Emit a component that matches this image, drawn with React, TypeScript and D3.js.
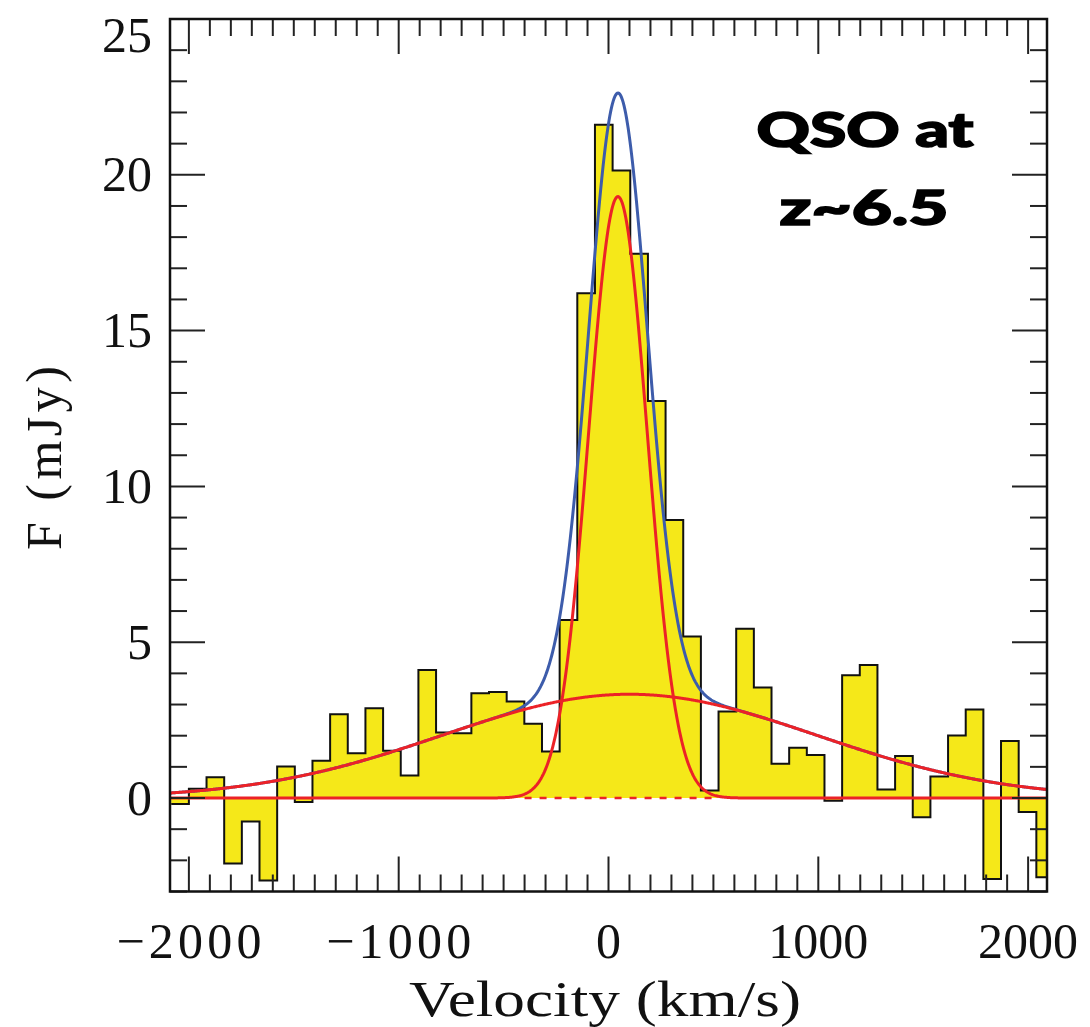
import React from 'react';
import * as d3 from 'd3';

// Axis ranges (km/s and mJy)
const VELOCITY_RANGE: [number, number] = [-2090, 2090];
const FLUX_RANGE: [number, number] = [-3, 25];

// Spectral channels: lower edge of the first channel and channel width (km/s)
const CHANNEL_FIRST_EDGE = -2084.15;
const CHANNEL_WIDTH = 84.15;

// Observed flux density per channel (mJy)
const flux = [
  -0.19, 0.3, 0.67, -2.1, -0.75, -2.65, 1.01, -0.13, 1.2, 2.69,
  1.44, 2.88, 1.52, 0.72, 4.11, 2.1, 2.08, 3.36, 3.4, 3.1,
  2.38, 1.49, 5.71, 16.2, 21.61, 20.14, 17.47, 12.74, 8.92, 5.18,
  0.24, 2.78, 5.43, 3.55, 1.1, 1.61, 1.38, -0.09, 3.94, 4.27,
  0.27, 1.35, -0.62, 0.69, 2.01, 2.84, -2.6, 1.83, -0.45, -2.54,
];

// Two-component Gaussian fit
const narrowComponent = { amplitude: 19.3, center: 45, sigma: 140 };
const broadComponent = { amplitude: 3.33, center: 100, sigma: 890 };

// Stretch of the zero level shown dashed beneath the narrow line
const zeroDashRange: [number, number] = [-400, 515];

// Ticks
const xMajorTicks = [-2000, -1000, 0, 1000, 2000];
const xMinorStep = 100;
const yMajorTicks = [0, 5, 10, 15, 20, 25];
const yMinorStep = 1;

const xTitle = 'Velocity (km/s)';
const yTitle = 'F (mJy)';
const annotationLines = ['QSO at', 'z~6.5'];

const W = 1090;
const H = 1027;
const PLOT = { left: 170, right: 1047, top: 19, bottom: 891.5 };

const YELLOW = '#F5E819';
const RED = '#EC2227';
const BLUE = '#3D5CAB';
const INK = '#111111';

const gauss = (c: { amplitude: number; center: number; sigma: number }, v: number) =>
  c.amplitude * Math.exp(-((v - c.center) ** 2) / (2 * c.sigma ** 2));

export default function App() {
  const x = d3.scaleLinear().domain(VELOCITY_RANGE).range([PLOT.left, PLOT.right]);
  const y = d3.scaleLinear().domain(FLUX_RANGE).range([PLOT.bottom, PLOT.top]);

  // channel edges, the first and last clamped to the axis range
  const bins = flux.map((f, i) => ({
    v0: Math.max(CHANNEL_FIRST_EDGE + i * CHANNEL_WIDTH, VELOCITY_RANGE[0]),
    f,
  }));
  const lastEdge = Math.min(CHANNEL_FIRST_EDGE + flux.length * CHANNEL_WIDTH, VELOCITY_RANGE[1]);
  const stepPts = [...bins, { v0: lastEdge, f: flux[flux.length - 1] }];

  const area = d3
    .area<{ v0: number; f: number }>()
    .x((d) => x(d.v0))
    .y0(y(0))
    .y1((d) => y(d.f))
    .curve(d3.curveStepAfter);
  const step = d3
    .line<{ v0: number; f: number }>()
    .x((d) => x(d.v0))
    .y((d) => y(d.f))
    .curve(d3.curveStepAfter);

  const vs = d3.range(VELOCITY_RANGE[0], VELOCITY_RANGE[1] + 0.1, 4);
  const curve = d3
    .line<number[]>()
    .x((d) => x(d[0]))
    .y((d) => y(d[1]));
  const narrowPath = curve(vs.map((v) => [v, gauss(narrowComponent, v)]));
  const broadPath = curve(vs.map((v) => [v, gauss(broadComponent, v)]));
  const totalPath = curve(vs.map((v) => [v, gauss(narrowComponent, v) + gauss(broadComponent, v)]));

  const xMinor = d3.range(-2000, 2000 + 1, xMinorStep).filter((t) => !xMajorTicks.includes(t));
  const yMinor = d3.range(-3, 25 + 0.01, yMinorStep).filter((t) => !yMajorTicks.includes(t));

  const fmt = d3.format('d');
  const major = 35;
  const minor = 17;
  const tickFont = "'Liberation Serif', 'DejaVu Serif', serif";

  return (
    <svg
      width={W}
      height={H}
      viewBox={`0 0 ${W} ${H}`}
      style={{ position: 'absolute', left: 0, top: 0, background: '#fff' }}
    >
      <defs>
        <clipPath id="plot-clip">
          <rect x={PLOT.left} y={PLOT.top} width={PLOT.right - PLOT.left} height={PLOT.bottom - PLOT.top} />
        </clipPath>
      </defs>

      <g clipPath="url(#plot-clip)">
        <path d={area(stepPts) ?? ''} fill={YELLOW} stroke="none" />
        <line
          x1={x(zeroDashRange[0])}
          x2={x(zeroDashRange[1])}
          y1={y(0)}
          y2={y(0)}
          stroke={RED}
          strokeWidth={2.5}
          strokeDasharray="7 8"
        />
        <path d={step(stepPts) ?? ''} fill="none" stroke={INK} strokeWidth={2} />
        <path d={totalPath ?? ''} fill="none" stroke={BLUE} strokeWidth={3} />
        <path d={broadPath ?? ''} fill="none" stroke={RED} strokeWidth={3} />
        <path d={narrowPath ?? ''} fill="none" stroke={RED} strokeWidth={3} />
      </g>

      {/* ticks on all four sides, pointing inward */}
      <g stroke="#222" strokeWidth={2}>
        {xMajorTicks.map((t) => (
          <g key={`xM${t}`}>
            <line x1={x(t)} x2={x(t)} y1={PLOT.bottom} y2={PLOT.bottom - major} />
            <line x1={x(t)} x2={x(t)} y1={PLOT.top} y2={PLOT.top + major} />
          </g>
        ))}
        {xMinor.map((t) => (
          <g key={`xm${t}`}>
            <line x1={x(t)} x2={x(t)} y1={PLOT.bottom} y2={PLOT.bottom - minor} />
            <line x1={x(t)} x2={x(t)} y1={PLOT.top} y2={PLOT.top + minor} />
          </g>
        ))}
        {yMajorTicks.map((t) => (
          <g key={`yM${t}`}>
            <line x1={PLOT.left} x2={PLOT.left + major} y1={y(t)} y2={y(t)} />
            <line x1={PLOT.right} x2={PLOT.right - major} y1={y(t)} y2={y(t)} />
          </g>
        ))}
        {yMinor.map((t) => (
          <g key={`ym${t}`}>
            <line x1={PLOT.left} x2={PLOT.left + minor} y1={y(t)} y2={y(t)} />
            <line x1={PLOT.right} x2={PLOT.right - minor} y1={y(t)} y2={y(t)} />
          </g>
        ))}
      </g>

      <rect
        x={PLOT.left}
        y={PLOT.top}
        width={PLOT.right - PLOT.left}
        height={PLOT.bottom - PLOT.top}
        fill="none"
        stroke={INK}
        strokeWidth={2.5}
      />

      {/* tick labels */}
      <g fontFamily={tickFont} fontSize={50} fill={INK}>
        {xMajorTicks.map((t) => (
          <text
            key={`xl${t}`}
            x={x(t)}
            y={958}
            textAnchor="middle"
            textLength={t < 0 ? 145 : undefined}
            lengthAdjust="spacing"
          >
            {fmt(t)}
          </text>
        ))}
        {yMajorTicks.map((t) => (
          <text key={`yl${t}`} x={152} y={Math.max(y(t), PLOT.top + 16) + 16.5} textAnchor="end">
            {fmt(t)}
          </text>
        ))}
      </g>

      {/* axis titles */}
      <text
        x={605}
        y={1016}
        fontFamily={tickFont}
        fontSize={50}
        fill={INK}
        textAnchor="middle"
        textLength={392}
        lengthAdjust="spacingAndGlyphs"
      >
        {xTitle}
      </text>
      <text
        transform={`translate(61, 458) rotate(-90)`}
        fontFamily={tickFont}
        fontSize={50}
        fill={INK}
        textAnchor="middle"
        textLength={184}
        lengthAdjust="spacing"
      >
        {yTitle}
      </text>

      {/* annotation */}
      <g
        fontFamily="Lato, 'Open Sans', sans-serif"
        fontWeight={900}
        fontSize={48}
        fill="#000"
        stroke="#000"
        strokeWidth={1.6}
        textAnchor="middle"
      >
        <text x={865} y={147} textLength={217} lengthAdjust="spacingAndGlyphs">
          {annotationLines[0]}
        </text>
        <text x={864} y={225} textLength={169} lengthAdjust="spacingAndGlyphs">
          {annotationLines[1]}
        </text>
      </g>
    </svg>
  );
}
